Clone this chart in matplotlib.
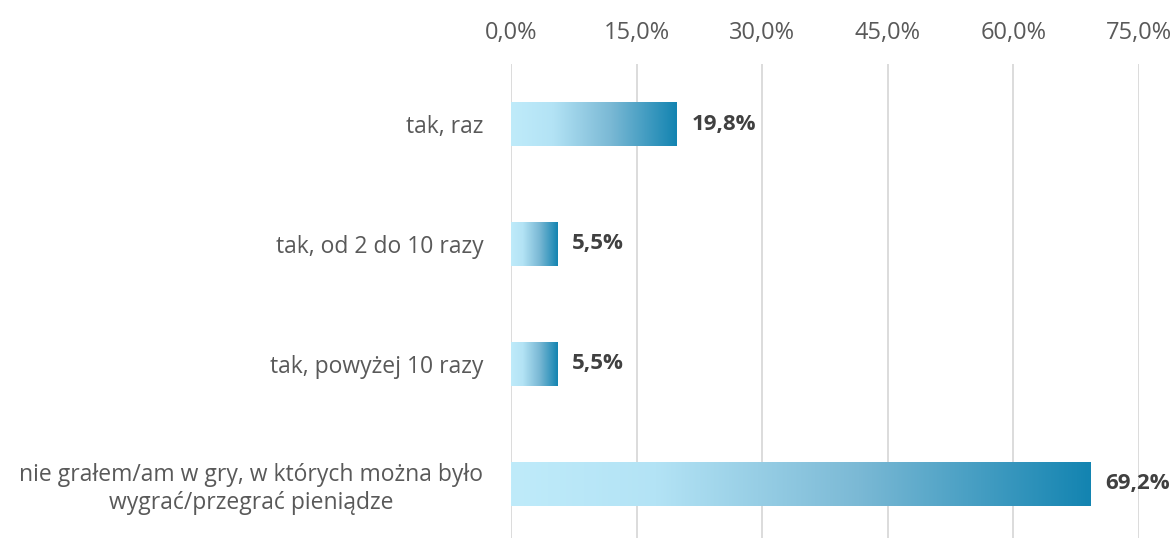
import matplotlib.pyplot as plt
import numpy as np
from matplotlib.colors import LinearSegmentedColormap
from matplotlib.ticker import FuncFormatter

categories = [
    "tak, raz",
    "tak, od 2 do 10 razy",
    "tak, powyżej 10 razy",
    "nie grałem/am w gry, w których można było\nwygrać/przegrać pieniądze",
]
values = [19.8, 5.5, 5.5, 69.2]
ticks = [0, 15, 30, 45, 60, 75]

plt.rcParams['font.family'] = ['Open Sans', 'DejaVu Sans']

fig = plt.figure(figsize=(11.74, 5.38), dpi=100)
ax = fig.add_axes([0.4353, -0.011, 0.5349, 0.892])

# light cyan to teal, each bar carries the full ramp over its own length
cmap = LinearSegmentedColormap.from_list(
    "bar", [(0.0, "#BFEBFA"), (0.25, "#B3E3F5"), (0.6, "#7BB9D5"), (1.0, "#1384B1")])
grad = np.linspace(0, 1, 256).reshape(1, -1)

bar_h = 0.36
for i, v in enumerate(values):
    ax.imshow(grad, cmap=cmap, aspect='auto', interpolation='bilinear',
              extent=[0, v, i + bar_h / 2, i - bar_h / 2], zorder=2)
    ax.text(v + 1.8, i, f"{v:.1f}%".replace('.', ','), va='center', ha='left',
            fontsize=16, fontweight='bold', color='#404040')

ax.set_xlim(0, 75)
ax.set_ylim(3.5, -0.5)
ax.set_xticks(ticks)
ax.xaxis.set_major_formatter(FuncFormatter(lambda x, _: f"{x:.1f}%".replace('.', ',')))
ax.xaxis.tick_top()
ax.grid(axis='x', color='#D9D9D9', linewidth=1.3, zorder=0)
ax.set_axisbelow(True)

ax.set_yticks(range(len(categories)))
ax.set_yticklabels(categories, multialignment='center')
ax.tick_params(axis='x', length=0, pad=14, labelsize=17, labelcolor='#595959')
ax.tick_params(axis='y', length=0, pad=20, labelsize=16.5, labelcolor='#595959')

for s in ax.spines.values():
    s.set_visible(False)

fig.savefig("out.png", dpi=100)
